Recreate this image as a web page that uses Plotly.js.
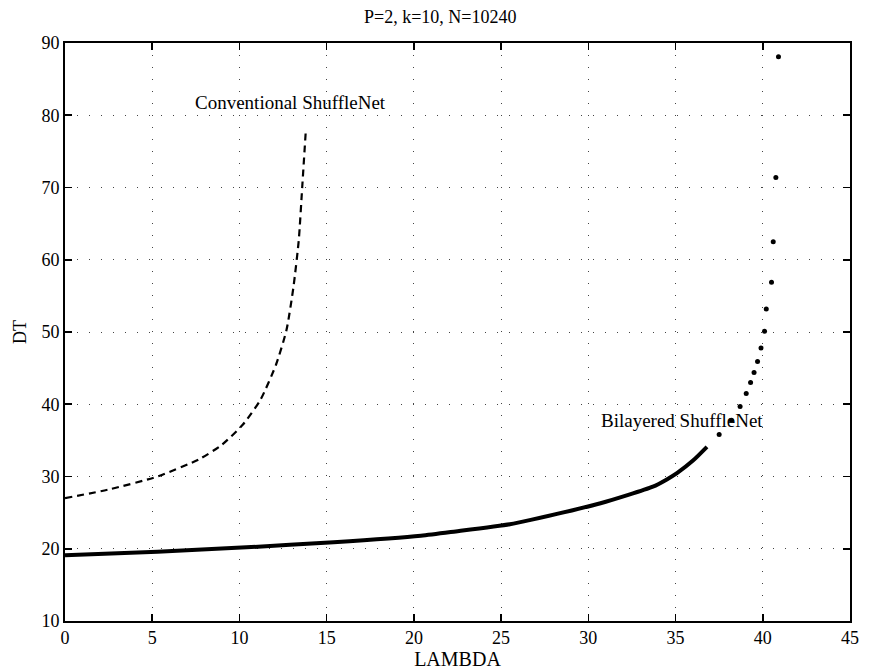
<!DOCTYPE html>
<html>
<head>
<meta charset="utf-8">
<script src="https://cdn.plot.ly/plotly-3.0.1.min.js"></script>
<style>html,body{margin:0;padding:0;background:#fff;}#chart{width:872px;height:671px;}</style>
</head>
<body>
<div id="chart"></div>
<script>
// Conventional ShuffleNet (dashed)
var convX = [0, 2.5, 5.3, 7.7, 9.0, 10.2, 11.2, 12.1, 12.7, 13.1, 13.4, 13.6, 13.8];
var convY = [27.0, 28.2, 30.0, 32.4, 34.4, 37.2, 40.6, 45.5, 50.3, 56.3, 62.7, 70.1, 77.7];
// Bilayered ShuffleNet (solid)
var bilX = [0, 5.3, 10.4, 15.4, 20.4, 22.4, 25.5, 26.7, 30.7, 33.7, 34.5, 35.1, 36.0, 36.8];
var bilY = [19.1, 19.6, 20.2, 20.9, 21.8, 22.4, 23.4, 24.0, 26.3, 28.6, 29.6, 30.5, 32.2, 34.1];
// Bilayered ShuffleNet, dotted continuation
var bilDotX = [37.5, 38.2, 38.7, 39.05, 39.3, 39.5, 39.7, 39.9, 40.1, 40.2, 40.5, 40.6, 40.75, 40.9];
var bilDotY = [35.8, 37.8, 39.7, 41.5, 43.0, 44.4, 45.9, 47.8, 50.1, 53.2, 56.9, 62.5, 71.4, 88.1];
var xTicks = [0, 5, 10, 15, 20, 25, 30, 35, 40, 45];
var yTicks = [10, 20, 30, 40, 50, 60, 70, 80, 90];
var titleText = "P=2, k=10, N=10240";
var xLabel = "LAMBDA";
var yLabel = "DT";
var convLabel = "Conventional ShuffleNet";
var bilLabel = "Bilayered ShuffleNet";

var serif = "Liberation Serif, Times New Roman, serif";
var traces = [
  {x: convX, y: convY, mode: "lines", line: {color: "#000", width: 2.2, dash: "7px,5px", shape: "spline", smoothing: 0.6}, hoverinfo: "skip"},
  {x: bilX, y: bilY, mode: "lines", line: {color: "#000", width: 4, shape: "spline", smoothing: 0.6}, hoverinfo: "skip"},
  {x: bilDotX, y: bilDotY, mode: "markers", marker: {color: "#000", size: 5}, hoverinfo: "skip"}
];
var axisCommon = {
  showline: true, linecolor: "#000", linewidth: 1.8, mirror: "ticks",
  ticks: "inside", ticklen: 7, tickwidth: 1.6, tickcolor: "#000",
  showgrid: true, gridcolor: "#444", gridwidth: 1, griddash: "1px,11px",
  zeroline: false, tickfont: {family: serif, size: 18, color: "#000"}
};
var layout = {
  width: 872, height: 671,
  margin: {l: 65, r: 22, t: 43, b: 50},
  paper_bgcolor: "#fff", plot_bgcolor: "#fff",
  showlegend: false,
  title: {text: titleText, x: 0.478, xref: "paper", xanchor: "center", y: 0.985, yanchor: "top", font: {family: serif, size: 18, color: "#000"}},
  xaxis: Object.assign({}, axisCommon, {range: [0, 45], tickvals: xTicks, ticktext: xTicks.map(String),
    title: {text: xLabel, standoff: 0, font: {family: serif, size: 20, color: "#000"}}}),
  yaxis: Object.assign({}, axisCommon, {range: [10, 90], tickvals: yTicks, ticktext: yTicks.map(String),
    title: {text: yLabel, standoff: 10, font: {family: serif, size: 18, color: "#000"}}}),
  annotations: [
    {x: 12.9, y: 81.7, xref: "x", yref: "y", text: convLabel, showarrow: false, font: {family: serif, size: 19, color: "#000"}},
    {x: 30.6, y: 37.8, xref: "x", yref: "y", text: bilLabel, xanchor: "left", showarrow: false, font: {family: serif, size: 19, color: "#000"}}
  ]
};
Plotly.newPlot("chart", traces, layout, {staticPlot: true, displayModeBar: false});
</script>
</body>
</html>
